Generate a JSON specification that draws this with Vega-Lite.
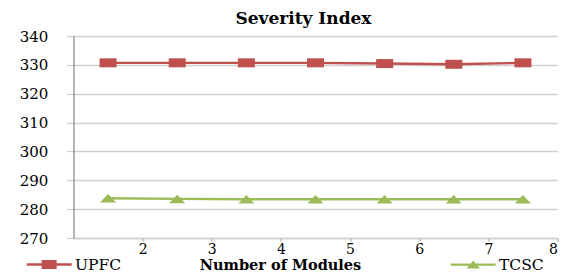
{
  "$schema": "https://vega.github.io/schema/vega-lite/v6.json",
  "width": 484,
  "height": 202,
  "autosize": {"type": "none"},
  "padding": {"left": 73.5, "top": 36, "right": 12.5, "bottom": 35},
  "background": "white",
  "config": {"view": {"stroke": null}, "font": "DejaVu Serif"},
  "title": {
    "text": "Severity Index",
    "font": "DejaVu Serif",
    "fontSize": 17,
    "fontWeight": "bold",
    "color": "black",
    "anchor": "middle",
    "dx": -12,
    "dy": 22,
    "baseline": "alphabetic",
    "offset": 10
  },
  "data": {
    "values": [
      {"modules": 1.5, "series": "UPFC", "value": 330.7},
      {"modules": 2.5, "series": "UPFC", "value": 330.7},
      {"modules": 3.5, "series": "UPFC", "value": 330.7},
      {"modules": 4.5, "series": "UPFC", "value": 330.7},
      {"modules": 5.5, "series": "UPFC", "value": 330.45},
      {"modules": 6.5, "series": "UPFC", "value": 330.2},
      {"modules": 7.5, "series": "UPFC", "value": 330.7},
      {"modules": 1.5, "series": "TCSC", "value": 283.8},
      {"modules": 2.5, "series": "TCSC", "value": 283.55},
      {"modules": 3.5, "series": "TCSC", "value": 283.45},
      {"modules": 4.5, "series": "TCSC", "value": 283.45},
      {"modules": 5.5, "series": "TCSC", "value": 283.45},
      {"modules": 6.5, "series": "TCSC", "value": 283.45},
      {"modules": 7.5, "series": "TCSC", "value": 283.45}
    ]
  },
  "encoding": {
    "x": {
      "field": "modules",
      "type": "quantitative",
      "scale": {"domain": [1, 8], "nice": false, "zero": false},
      "axis": {
        "values": [2, 3, 4, 5, 6, 7, 8],
        "grid": false,
        "domain": true,
        "domainColor": "#cfcfcf",
        "domainWidth": 1.3,
        "ticks": true,
        "tickSize": 3,
        "tickColor": "#9a9a9a",
        "labelFont": "DejaVu Serif",
        "labelFontSize": 14,
        "labelColor": "black",
        "labelPadding": 1,
        "labelBaseline": "top",
        "title": "Number of Modules",
        "titleFont": "DejaVu Serif",
        "titleFontSize": 14.5,
        "titleFontWeight": "bold",
        "titleColor": "black",
        "titleX": 206.5,
        "titleY": 31.5,
        "titleAlign": "center",
        "titleBaseline": "alphabetic"
      }
    },
    "y": {
      "field": "value",
      "type": "quantitative",
      "scale": {"domain": [270, 340], "nice": false, "zero": false},
      "axis": {
        "values": [270, 280, 290, 300, 310, 320, 330, 340],
        "grid": true,
        "gridColor": "#cfcfcf",
        "gridWidth": 1.3,
        "domain": true,
        "domainColor": "#8c8c8c",
        "domainWidth": 1.3,
        "ticks": true,
        "tickSize": 7,
        "tickColor": "#cfcfcf",
        "tickWidth": 1.3,
        "labelFont": "DejaVu Serif",
        "labelFontSize": 15,
        "labelColor": "black",
        "labelAlign": "center",
        "labelPadding": 33,
        "title": null
      }
    },
    "color": {
      "field": "series",
      "type": "nominal",
      "scale": {"domain": ["UPFC", "TCSC"], "range": ["#c0504d", "#9bbb59"]},
      "legend": {
        "title": null,
        "orient": "none",
        "direction": "horizontal",
        "columns": 2,
        "legendX": -46.8,
        "legendY": 206,
        "padding": 0,
        "columnPadding": 329,
        "symbolSize": 2025,
        "labelOffset": 3.3,
        "labelFont": "DejaVu Serif",
        "labelFontSize": 15.5,
        "labelColor": "black",
        "encode": {
          "symbols": {
            "update": {
              "shape": {"signal": "datum.value === 'UPFC' ? 'M-1,-0.055H1V0.055H-1Z M-0.333,-0.2H0.333V0.2H-0.333Z' : 'M-1,-0.05H1V0.05H-1Z M0,-0.18L0.3,0.18H-0.3Z'"},
              "fill": {"scale": "color", "field": "value"},
              "strokeWidth": {"value": 0},
              "opacity": {"value": 1}
            }
          }
        }
      }
    }
  },
  "layer": [
    {
      "mark": {"type": "line", "strokeWidth": 2.4},
      "encoding": {}
    },
    {
      "transform": [{"filter": "datum.series === 'UPFC'"}],
      "mark": {"type": "point", "filled": true, "opacity": 1, "size": 289, "shape": "M-1,-0.53H1V0.53H-1Z"},
      "encoding": {}
    },
    {
      "transform": [{"filter": "datum.series === 'TCSC'"}],
      "mark": {"type": "point", "filled": true, "opacity": 1, "size": 289, "shape": "M0,-0.5L0.95,0.5H-0.95Z"},
      "encoding": {}
    }
  ]
}
